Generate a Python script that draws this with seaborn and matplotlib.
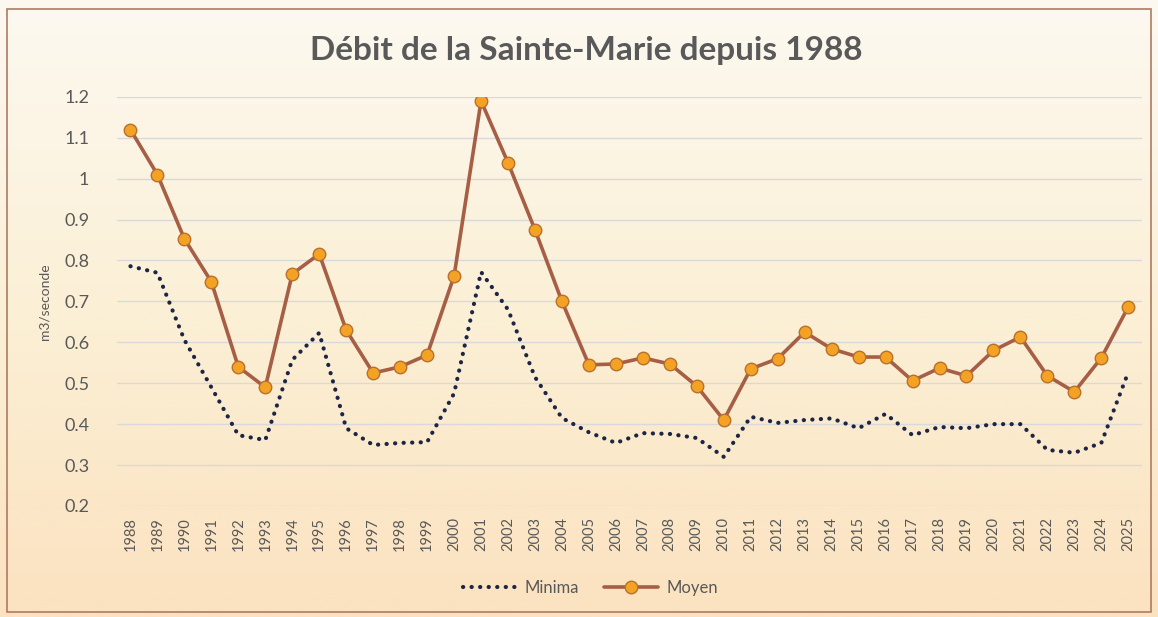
import numpy as np
import pandas as pd
import seaborn as sns
import matplotlib.pyplot as plt
from matplotlib.patches import Rectangle
from matplotlib.colors import LinearSegmentedColormap

sns.set_theme(style="white")
plt.rcParams['font.family'] = ['Lato', 'DejaVu Sans']

annees = list(range(1988, 2026))
minima = [0.786, 0.77, 0.606, 0.49, 0.373, 0.361, 0.557, 0.623, 0.39, 0.349,
          0.354, 0.356, 0.475, 0.772, 0.68, 0.515, 0.415, 0.38, 0.354, 0.378,
          0.376, 0.366, 0.32, 0.418, 0.403, 0.41, 0.414, 0.39, 0.425, 0.373,
          0.393, 0.39, 0.4, 0.4, 0.337, 0.33, 0.354, 0.527]
moyen = [1.12, 1.01, 0.853, 0.748, 0.54, 0.49, 0.767, 0.816, 0.63, 0.525,
         0.54, 0.569, 0.762, 1.19, 1.039, 0.875, 0.70, 0.545, 0.547, 0.562,
         0.547, 0.493, 0.41, 0.535, 0.56, 0.625, 0.584, 0.564, 0.564, 0.506,
         0.537, 0.518, 0.58, 0.613, 0.518, 0.479, 0.562, 0.687]

df = pd.DataFrame({"Annee": annees, "Minima": minima, "Moyen": moyen})

gris = "#595959"
fig = plt.figure(figsize=(11.58, 6.17), dpi=100)

# fond en degrade
bg = fig.add_axes([0, 0, 1, 1], zorder=-10)
grad = np.linspace(0, 1, 256).reshape(-1, 1)
cmap = LinearSegmentedColormap.from_list("fond", ["#fdf9f1", "#fbf0d6", "#fbe2c0"])
bg.imshow(grad, aspect="auto", cmap=cmap, extent=[0, 1, 0, 1])
bg.set_axis_off()
fig.patches.append(Rectangle((0.006, 0.008), 0.988, 0.978, transform=fig.transFigure,
                             fill=False, edgecolor="#b07a62", linewidth=1.2))

ax = fig.add_axes([0.101, 0.180, 0.885, 0.663])
ax.patch.set_alpha(0)

sns.lineplot(data=df, x="Annee", y="Minima", ax=ax, color="#1c2546", linewidth=3,
             linestyle=(0, (0.05, 2.0)), dash_capstyle="round", label="Minima")
sns.lineplot(data=df, x="Annee", y="Moyen", ax=ax, color="#a65e45", linewidth=2.6,
             marker="o", markersize=9, markerfacecolor="#f4a223",
             markeredgecolor="#b8702e", markeredgewidth=1, label="Moyen")

ax.set_xlim(1987.5, 2025.5)
ax.set_ylim(0.2, 1.2)
ax.set_yticks(np.arange(0.2, 1.21, 0.1))
ax.set_yticklabels(["0.2", "0.3", "0.4", "0.5", "0.6", "0.7", "0.8", "0.9", "1", "1.1", "1.2"])
ax.set_xticks(annees)
ax.set_xticklabels([str(a) for a in annees], rotation=90)
ax.tick_params(axis="both", colors=gris, labelsize=10.5, length=0, pad=8)
ax.tick_params(axis="y", labelsize=13, pad=20)
ax.grid(axis="y", color="#d9d9d9", linewidth=1)
for s in ax.spines.values():
    s.set_visible(False)

ax.set_xlabel("")
ax.set_ylabel("m3/seconde", color=gris, fontsize=10, labelpad=10)

fig.text(0.506, 0.918, "Débit de la Sainte-Marie depuis 1988", ha="center", va="center",
         fontsize=24, fontweight="bold", color=gris)

ax.legend(loc="center", bbox_to_anchor=(0.462, -0.2), ncol=2, frameon=False,
          fontsize=12, labelcolor=gris, handlelength=3.2, handletextpad=0.5,
          columnspacing=1.5)

fig.savefig("out.png", dpi=100)
